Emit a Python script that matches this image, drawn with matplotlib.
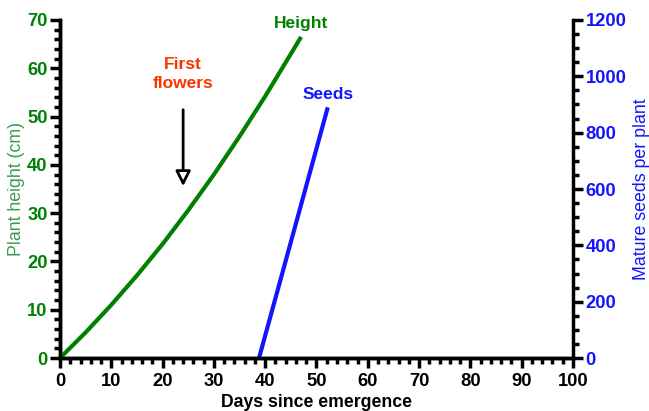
import matplotlib
matplotlib.use("Agg")
import matplotlib.pyplot as plt
from matplotlib.ticker import MultipleLocator

plt.rcParams['font.family'] = ['Liberation Sans', 'DejaVu Sans']

# Values
height_days = [0, 5, 10, 15, 20, 25, 30, 35, 40, 47]
height_cm = [0, 5.3, 11.0, 17.1, 23.6, 30.6, 38.0, 45.9, 54.2, 66.5]
seed_days = [38.8, 52.2]
seed_count = [0, 890]

GREEN = '#008000'
BLUE = '#1414ff'
RED = '#ff3300'

fig = plt.figure(figsize=(6.49, 4.11), dpi=100)
ax = fig.add_axes([60 / 649, 1 - 358 / 411, 513 / 649, 338 / 411])
ax2 = ax.twinx()

ax.plot(height_days, height_cm, color=GREEN, linewidth=3, solid_capstyle='butt')
ax2.plot(seed_days, seed_count, color=BLUE, linewidth=3, solid_capstyle='butt')

ax.set_xlim(0, 100)
ax.set_ylim(0, 70)
ax2.set_ylim(0, 1200)

ax.xaxis.set_major_locator(MultipleLocator(10))
ax.xaxis.set_minor_locator(MultipleLocator(2))
ax.yaxis.set_major_locator(MultipleLocator(10))
ax.yaxis.set_minor_locator(MultipleLocator(2))
ax2.yaxis.set_major_locator(MultipleLocator(200))
ax2.yaxis.set_minor_locator(MultipleLocator(50))

for a in (ax, ax2):
    a.spines['top'].set_visible(False)
    for s in a.spines.values():
        s.set_linewidth(2.5)
    a.tick_params(which='major', length=7, width=2.5, labelsize=13.2, pad=2)
    a.tick_params(which='minor', length=4, width=2.5)
ax.spines['right'].set_visible(False)
ax.tick_params(axis='x', which='major', pad=4)

for lab in ax.get_xticklabels():
    lab.set_fontweight('bold')
for lab in ax.get_yticklabels():
    lab.set_fontweight('bold')
    lab.set_color(GREEN)
for lab in ax2.get_yticklabels():
    lab.set_fontweight('bold')
    lab.set_color(BLUE)

ax.set_xlabel('Days since emergence', fontsize=12.7, fontweight='bold', labelpad=3)
ax.set_ylabel('Plant height (cm)', fontsize=12.8, color='#3c9a50')
ax2.set_ylabel('Mature seeds per plant', fontsize=12.8, color=BLUE)
ax.yaxis.set_label_coords(-0.084, 0.5)
ax2.yaxis.set_label_coords(1.133, 0.5)
ax.yaxis.label.set_va('center')
ax2.yaxis.label.set_va('center')

ax.text(47, 69.2, 'Height', color=GREEN, fontsize=12.5, fontweight='bold',
        ha='center', va='center')
ax2.text(52.3, 936, 'Seeds', color=BLUE, fontsize=12.5, fontweight='bold',
         ha='center', va='center')
ax.text(24, 58.8, 'First\nflowers', color=RED, fontsize=12.5, fontweight='bold',
        ha='center', va='center', linespacing=1.35)
ax.annotate('', xy=(24, 35), xytext=(24, 52),
            arrowprops=dict(arrowstyle='-|>,head_width=0.45,head_length=0.9',
                            facecolor='white', edgecolor='black', linewidth=2))

ax.set_zorder(ax2.get_zorder() + 1)
ax.patch.set_visible(False)

fig.savefig('out.png', dpi=100)
